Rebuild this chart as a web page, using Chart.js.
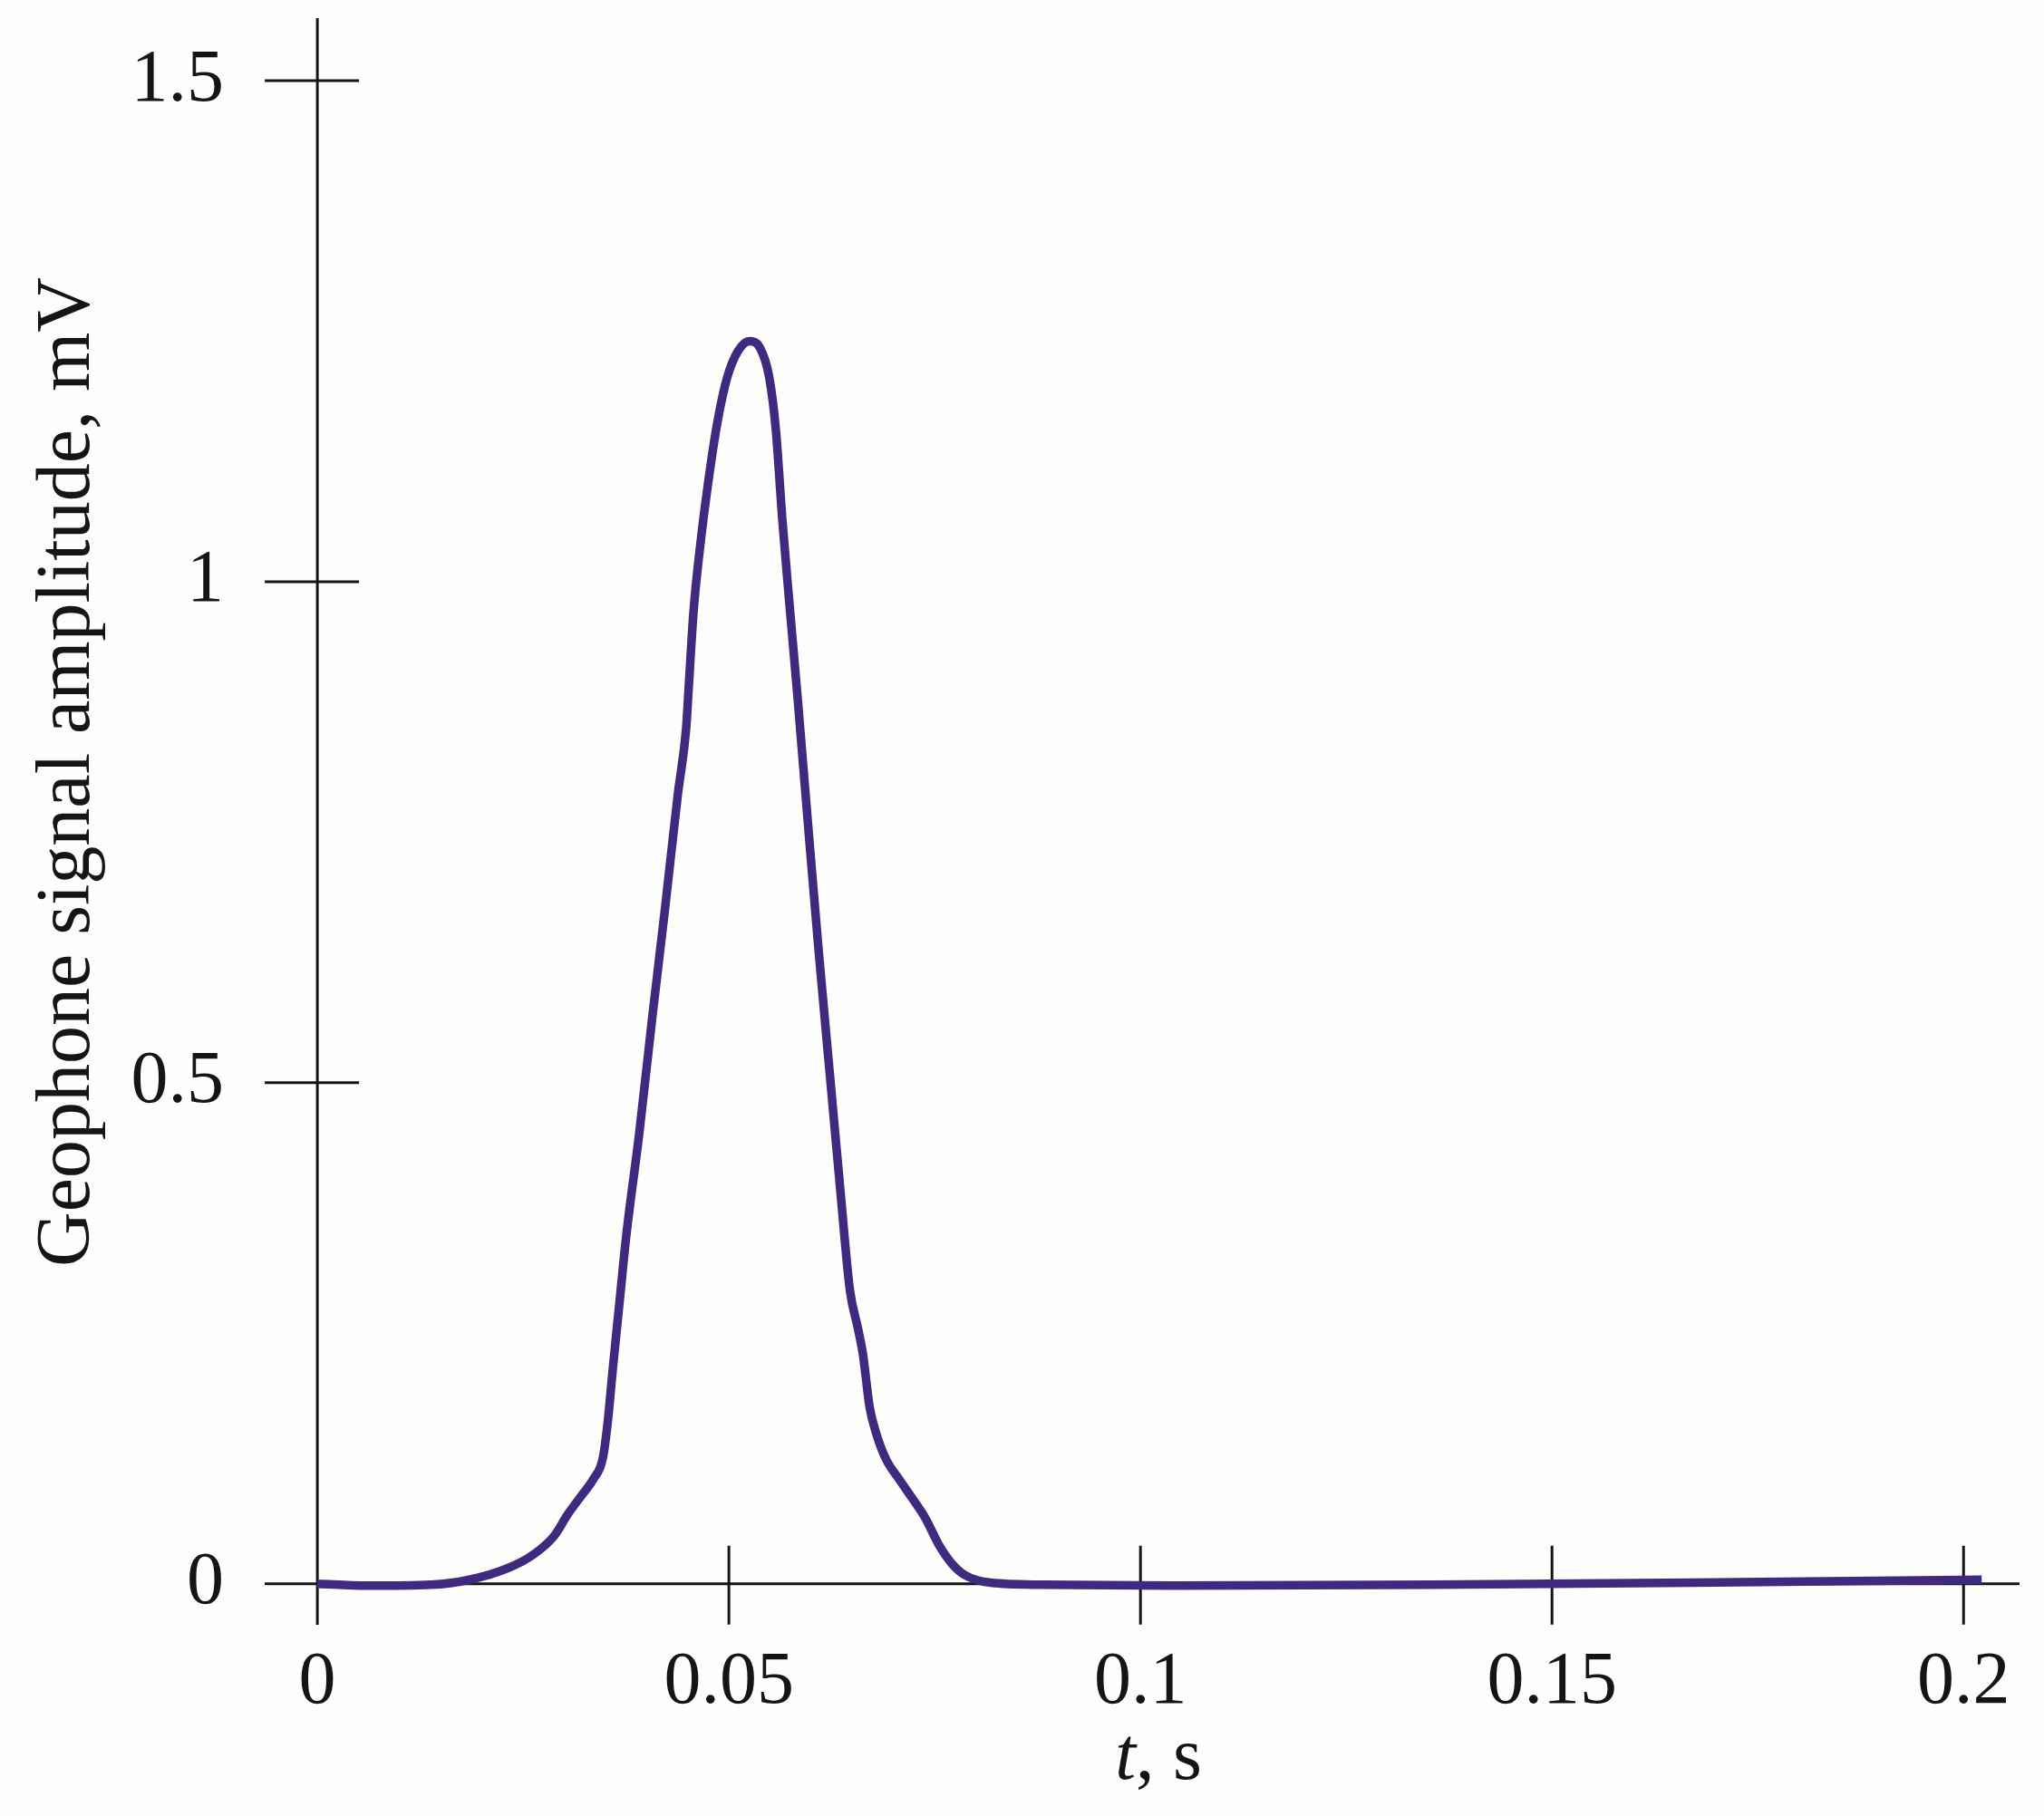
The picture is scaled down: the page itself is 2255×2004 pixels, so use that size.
<!DOCTYPE html>
<html>
<head>
<meta charset="utf-8">
<script src="https://cdn.jsdelivr.net/npm/chart.js@4.4.1/dist/chart.umd.min.js"></script>
<style>
  html, body { margin: 0; padding: 0; background: #fefefd; overflow: hidden; }
  #wrap { position: relative; width: 2255px; height: 2004px; }
</style>
</head>
<body>
<div id="wrap"><canvas id="chart"></canvas></div>
<script>
  // time, s
  const timeValues = [
    0, 0.0059, 0.0138, 0.0185, 0.0233, 0.0264, 0.0288, 0.0304, 0.032, 0.0335,
    0.0347, 0.0353, 0.0359, 0.0367, 0.0375, 0.0391, 0.0407, 0.0422, 0.0438, 0.0448,
    0.0451, 0.0457, 0.0465, 0.0475, 0.0486, 0.0498, 0.0511, 0.0525, 0.0538, 0.0549,
    0.0557, 0.0565, 0.0573, 0.0584, 0.0597, 0.0609, 0.0622, 0.0636, 0.0647, 0.0657,
    0.0663, 0.0671, 0.0679, 0.0691, 0.0707, 0.0723, 0.0739, 0.0755, 0.0771, 0.0786,
    0.0818, 0.0881, 0.104, 0.1356, 0.1672, 0.2022
  ];
  // geophone signal amplitude, mV
  const amplitudeValues = [
    0, -0.002, -0.001, 0.004, 0.016, 0.030, 0.048, 0.069, 0.087, 0.104,
    0.126, 0.163, 0.215, 0.280, 0.345, 0.449, 0.566, 0.671, 0.788, 0.853,
    0.892, 0.970, 1.035, 1.100, 1.159, 1.204, 1.230, 1.240, 1.233, 1.204,
    1.152, 1.061, 0.983, 0.879, 0.749, 0.632, 0.514, 0.387, 0.293, 0.254,
    0.228, 0.176, 0.150, 0.124, 0.104, 0.085, 0.065, 0.039, 0.020, 0.009,
    0.001, -0.001, -0.002, -0.001, 0.001, 0.004
  ];
  const xTicks = [0, 0.05, 0.1, 0.15, 0.2];
  const xTickLabels = ["0", "0.05", "0.1", "0.15", "0.2"];
  const yTicks = [0, 0.5, 1, 1.5];
  const yTickLabels = ["0", "0.5", "1", "1.5"];

  const FONT = "'Liberation Serif', 'Times New Roman', serif";
  const INK = "#151515";

  // cross-shaped axes through the origin, ticks sticking out on both sides
  const crossAxes = {
    id: "crossAxes",
    beforeDatasetsDraw(chart) {
      const { ctx, chartArea, scales } = chart;
      const x0 = scales.x.getPixelForValue(0);
      const y0 = scales.y.getPixelForValue(0);
      ctx.save();
      ctx.strokeStyle = INK;
      ctx.lineWidth = 3;
      ctx.beginPath();
      ctx.moveTo(chartArea.left, y0);
      ctx.lineTo(chartArea.right, y0);
      ctx.moveTo(x0, chartArea.top);
      ctx.lineTo(x0, chartArea.bottom);
      yTicks.forEach((v) => {
        const py = scales.y.getPixelForValue(v);
        ctx.moveTo(x0 - 58, py);
        ctx.lineTo(x0 + 46, py);
      });
      xTicks.forEach((v) => {
        const px = scales.x.getPixelForValue(v);
        ctx.moveTo(px, y0 - 42);
        ctx.lineTo(px, y0 + 45);
      });
      ctx.stroke();
      ctx.restore();
    },
    afterDraw(chart) {
      const { ctx, scales } = chart;
      ctx.save();
      ctx.fillStyle = INK;
      ctx.textBaseline = "alphabetic";

      // x title: italic t, then ", s"
      const italic = "italic 82px " + FONT;
      const normal = "82px " + FONT;
      ctx.font = italic;
      const wT = ctx.measureText("t").width;
      ctx.font = normal;
      const wRest = ctx.measureText(", s").width;
      const cx = scales.x.getPixelForValue(0.1022);
      const startX = cx - (wT + wRest) / 2;
      const by = 1963;
      ctx.font = italic;
      ctx.textAlign = "left";
      ctx.fillText("t", startX, by);
      ctx.font = normal;
      ctx.fillText(", s", startX + wT, by);

      // y title, rotated
      ctx.translate(98, scales.y.getPixelForValue(0.81));
      ctx.rotate(-Math.PI / 2);
      ctx.textAlign = "center";
      ctx.font = "84px " + FONT;
      ctx.fillText("Geophone signal amplitude, mV", 0, 0);
      ctx.restore();
    }
  };

  new Chart(document.getElementById("chart"), {
    type: "line",
    data: {
      datasets: [
        {
          data: timeValues.map((t, i) => ({ x: t, y: amplitudeValues[i] })),
          borderColor: "#3f2a80",
          borderWidth: 9.5,
          pointRadius: 0,
          cubicInterpolationMode: "monotone",
          fill: false
        }
      ]
    },
    options: {
      responsive: true,
      maintainAspectRatio: false,
      animation: false,
      events: [],
      layout: { padding: { top: 20, right: 27, left: 0, bottom: 0 } },
      plugins: { legend: { display: false }, tooltip: { enabled: false } },
      scales: {
        x: {
          type: "linear",
          min: -0.0064,
          max: 0.2068,
          grid: { display: false, drawTicks: false },
          border: { display: false },
          afterBuildTicks: (scale) => { scale.ticks = xTicks.map((v) => ({ value: v })); },
          afterFit: (scale) => {
            scale.height = 211;
            scale.paddingLeft = 0;
            scale.paddingRight = 0;
          },
          ticks: {
            padding: 15,
            maxRotation: 0,
            autoSkip: false,
            color: INK,
            font: { family: FONT, size: 82 },
            callback: (value) => xTickLabels[xTicks.indexOf(value)]
          }
        },
        y: {
          type: "linear",
          min: -0.041,
          max: 1.5624,
          grid: { display: false, drawTicks: false },
          border: { display: false },
          afterBuildTicks: (scale) => { scale.ticks = yTicks.map((v) => ({ value: v })); },
          afterFit: (scale) => {
            scale.width = 292;
            scale.paddingTop = 0;
            scale.paddingBottom = 0;
          },
          ticks: {
            padding: 45,
            autoSkip: false,
            color: INK,
            font: { family: FONT, size: 82 },
            callback: (value) => yTickLabels[yTicks.indexOf(value)]
          }
        }
      }
    },
    plugins: [crossAxes]
  });
</script>
</body>
</html>
